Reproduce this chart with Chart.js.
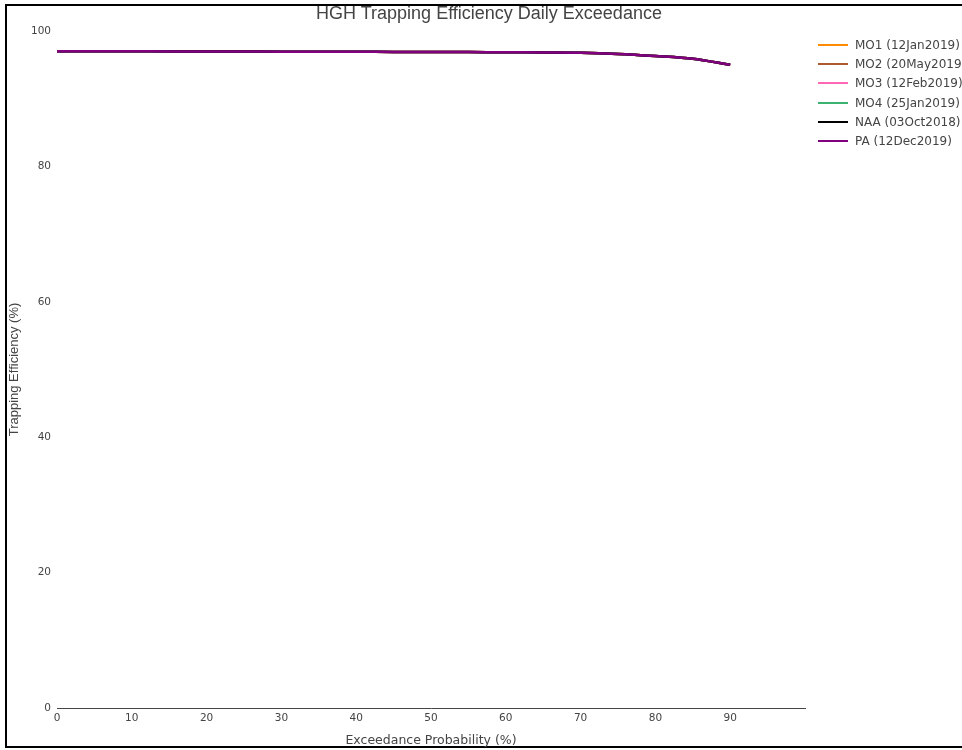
<!DOCTYPE html>
<html>
<head>
<meta charset="utf-8">
<script src="https://cdn.jsdelivr.net/npm/chart.js@4.4.1/dist/chart.umd.min.js"></script>
<style>
  html, body { margin: 0; padding: 0; width: 962px; height: 750px; overflow: hidden; background: #fff; }
  #frame { position: absolute; left: 5px; top: 4px; width: 990px; height: 744px; box-sizing: border-box;
           border: 2px solid #000; border-right: none; }
  #wrap { position: absolute; left: 0; top: 0; width: 962px; height: 750px; }
  #title { position: absolute; left: 0; width: 978px; top: 3px; text-align: center;
           font: 18px 'Liberation Sans', Arial, sans-serif; color: #444; white-space: nowrap; }
  #legend { position: absolute; left: 818px; top: 35px; font: 12px 'DejaVu Sans', Verdana, sans-serif; color: #444; white-space: nowrap; }
  .item { height: 19.3px; display: flex; align-items: center; }
  .swatch { width: 30px; height: 2px; margin-right: 7px; }
</style>
</head>
<body>
<div id="frame"></div>
<div id="wrap"><canvas id="chart" width="962" height="750"></canvas></div>
<div id="title">HGH Trapping Efficiency Daily Exceedance</div>
<div id="legend"></div>
<script>
// ═══ DATA ═══
const exceedance = [0, 5, 10, 15, 20, 25, 30, 35, 40, 45, 50, 55, 60, 65, 70, 75, 80, 85, 90];

const effMO1 = [97.0, 97.0, 97.0, 96.98, 96.97, 96.96, 96.95, 96.94, 96.93, 96.91, 96.9, 96.88, 96.86, 96.84, 96.8, 96.62, 96.3, 95.9, 95.0];
const effMO2 = [97.0, 97.0, 97.0, 96.98, 96.97, 96.96, 96.95, 96.94, 96.93, 96.91, 96.9, 96.88, 96.86, 96.84, 96.8, 96.62, 96.3, 95.9, 95.0];
const effMO3 = [97.0, 97.0, 97.0, 96.98, 96.97, 96.96, 96.95, 96.94, 96.93, 96.91, 96.9, 96.88, 96.86, 96.84, 96.8, 96.62, 96.3, 95.9, 95.0];
const effMO4 = [97.0, 97.0, 97.0, 96.98, 96.97, 96.96, 96.95, 96.94, 96.93, 96.91, 96.9, 96.88, 96.86, 96.84, 96.8, 96.62, 96.3, 95.9, 95.0];
const effNAA = [97.0, 97.0, 97.0, 96.98, 96.97, 96.96, 96.95, 96.94, 96.93, 96.91, 96.9, 96.88, 96.86, 96.84, 96.8, 96.62, 96.3, 95.9, 95.0];
const effPA  = [97.0, 97.0, 97.0, 96.98, 96.97, 96.96, 96.95, 96.94, 96.93, 96.91, 96.9, 96.88, 96.86, 96.84, 96.8, 96.62, 96.3, 95.9, 95.0];

const seriesLabels = ['MO1 (12Jan2019)', 'MO2 (20May2019)', 'MO3 (12Feb2019)', 'MO4 (25Jan2019)', 'NAA (03Oct2018)', 'PA (12Dec2019)'];
const seriesColors = ['#ff8c00', '#b0582e', '#ff69b4', '#3cb371', '#000000', '#800080'];
const seriesValues = [effMO1, effMO2, effMO3, effMO4, effNAA, effPA];

const xTicks = [0, 10, 20, 30, 40, 50, 60, 70, 80, 90];
const yTicks = [0, 20, 40, 60, 80, 100];

const TICK_FONT = { family: "'DejaVu Sans', Verdana, sans-serif", size: 10.5 };
const GRAY_TEXT = '#444';

// ═══ CHART ═══
new Chart(document.getElementById('chart'), {
  type: 'line',
  data: {
    datasets: seriesLabels.map((label, i) => ({
      label,
      data: seriesValues[i].map((v, j) => ({ x: exceedance[j], y: v })),
      borderColor: seriesColors[i],
      backgroundColor: seriesColors[i],
      borderWidth: 2.5,
      pointRadius: 0,
      tension: 0.3,
      fill: false,
      order: seriesLabels.length - 1 - i
    }))
  },
  options: {
    responsive: false,
    animation: false,
    layout: { padding: { left: 0, right: 157, top: 31, bottom: 0 } },
    plugins: {
      legend: { display: false },
      tooltip: { enabled: false },
      title: { display: false }
    },
    scales: {
      x: {
        type: 'linear',
        min: 0,
        max: 100,
        afterFit: s => { s.height = 42; },
        afterBuildTicks: s => { s.ticks = xTicks.map(v => ({ value: v })); },
        grid: { display: false, drawTicks: false, tickLength: 0 },
        border: { display: true, color: '#444', width: 1 },
        ticks: { color: GRAY_TEXT, font: TICK_FONT, padding: 4, maxRotation: 0 },
        title: {
          display: true, text: 'Exceedance Probability (%)', color: GRAY_TEXT,
          font: { family: "'DejaVu Sans', Verdana, sans-serif", size: 12.5 },
          padding: { top: 0, bottom: 2 }
        }
      },
      y: {
        min: 0,
        max: 100,
        afterFit: s => { s.width = 57; },
        afterBuildTicks: s => { s.ticks = yTicks.map(v => ({ value: v })); },
        grid: { display: false, drawTicks: false, tickLength: 0 },
        border: { display: false },
        ticks: { color: GRAY_TEXT, font: TICK_FONT, padding: 6 },
        title: {
          display: true, text: 'Trapping Efficiency (%)', color: GRAY_TEXT,
          font: { family: "'Liberation Sans', Arial, sans-serif", size: 13 },
          padding: { top: 7, bottom: 0 }
        }
      }
    }
  }
});

// ═══ LEGEND ═══
const legendBox = document.getElementById('legend');
seriesLabels.forEach((label, i) => {
  const row = document.createElement('div');
  row.className = 'item';
  const sw = document.createElement('span');
  sw.className = 'swatch';
  sw.style.background = seriesColors[i];
  row.appendChild(sw);
  row.appendChild(document.createTextNode(label));
  legendBox.appendChild(row);
});
</script>
</body>
</html>
